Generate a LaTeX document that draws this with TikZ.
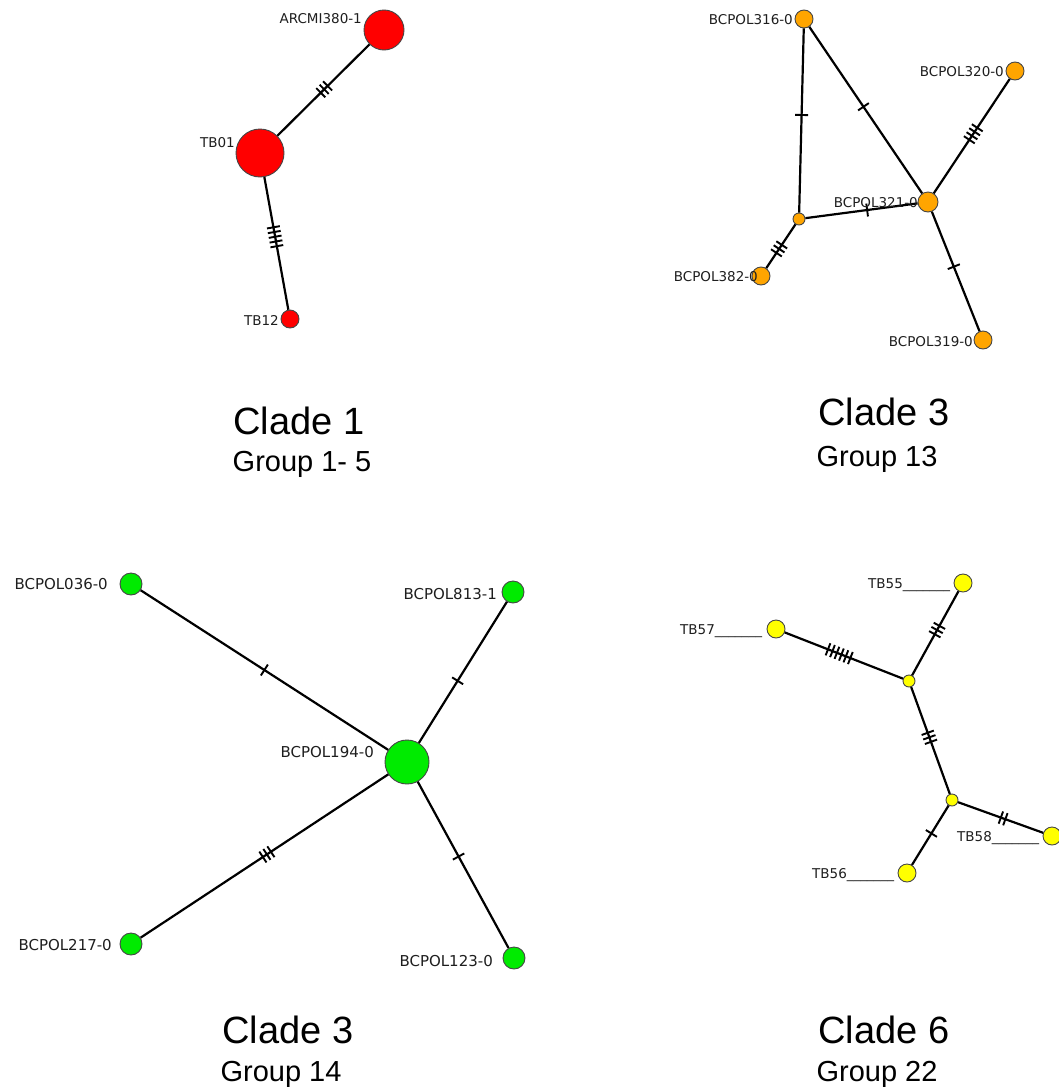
\documentclass[tikz,border=0pt]{standalone}
\usepackage{fontspec}
\newfontfamily\lblfont{DejaVu Sans}
\newfontfamily\ttlfont{Liberation Sans}
\usetikzlibrary{decorations.markings}
\definecolor{hred}{RGB}{255,0,0}
\definecolor{horange}{RGB}{255,165,0}
\definecolor{hgreen}{RGB}{0,235,0}
\definecolor{hyellow}{RGB}{255,255,0}
\definecolor{hborder}{RGB}{70,70,70}
\definecolor{htext}{RGB}{30,30,30}
\tikzset{
  hap/.style={circle, draw=hborder, line width=0.9pt, inner sep=0pt, minimum size=#1},
  edge/.style={line width=2.2pt, black},
  ticks/.style 2 args={postaction={decorate, decoration={markings,
     mark=at position #2 with {\foreach \k in {1,...,#1}{\draw[line width=1.9pt, black] ({(\k-(#1+1)/2)*4.8},-6.5) -- ({(\k-(#1+1)/2)*4.8},6.5);}}}}},
  lbl/.style={font=\lblfont\fontsize{13.5}{16}\selectfont, text=htext, inner sep=0pt, anchor=base east},
  glbl/.style={font=\lblfont\fontsize{15}{18}\selectfont, text=htext, inner sep=0pt, anchor=base east},
  ylbl/.style={font=\lblfont\fontsize{13.5}{16}\selectfont, text=htext, inner sep=0pt, anchor=base west},
  clade/.style={font=\ttlfont\fontsize{38}{44}\selectfont, text=black, inner sep=0pt, anchor=base},
  grp/.style={font=\ttlfont\fontsize{29}{33}\selectfont, text=black, inner sep=0pt, anchor=base},
}
\begin{document}
\begin{tikzpicture}[x=1pt,y=-1pt]
\useasboundingbox[fill=white] (0,0) rectangle (1059,1087);

% ---------------- Clade 1 ----------------
\node[hap=40pt, fill=hred] (arcmi) at (384,30) {};
\node[hap=48pt, fill=hred] (tb01) at (260,153) {};
\node[hap=18pt, fill=hred] (tb12) at (290,319) {};
\draw[edge, ticks={3}{0.51}] (tb01) -- (arcmi);
\draw[edge, ticks={5}{0.45}] (tb01) -- (tb12);
\node[lbl] (l-arcmi) at (362,23) {ARCMI380-1};
\node[lbl] (l-tb01) at (235,147) {TB01};
\node[lbl] (l-tb12) at (279,325) {TB12};
\node[clade] (c1) at (299,434) {Clade 1};
\node[grp] (g1) at (302,471) {Group 1- 5};

% ---------------- Clade 3 (Group 13) ----------------
\node[hap=18pt, fill=horange] (p316) at (804,19) {};
\node[hap=18pt, fill=horange] (p320) at (1015,71) {};
\node[hap=20pt, fill=horange] (p321) at (928,202) {};
\node[hap=12pt, fill=horange] (pm) at (799,219) {};
\node[hap=18pt, fill=horange] (p382) at (761,276) {};
\node[hap=18pt, fill=horange] (p319) at (983,340) {};
\draw[edge, ticks={1}{0.47}] (p316) -- (pm);
\draw[edge, ticks={1}{0.48}] (p316) -- (p321);
\draw[edge, ticks={4}{0.52}] (p321) -- (p320);
\draw[edge, ticks={1}{0.55}] (pm) -- (p321);
\draw[edge, ticks={3}{0.56}] (pm) -- (p382);
\draw[edge, ticks={1}{0.46}] (p321) -- (p319);
\node[lbl] (l-p316) at (793,24) {BCPOL316-0};
\node[lbl] (l-p320) at (1004,76) {BCPOL320-0};
\node[lbl] (l-p321) at (918,207) {BCPOL321-0};
\node[lbl] (l-p382) at (758,281) {BCPOL382-0};
\node[lbl] (l-p319) at (973,346) {BCPOL319-0};
\node[clade] (c3a) at (884,425) {Clade 3};
\node[grp] (g13) at (877,466) {Group 13};

% ---------------- Clade 3 (Group 14) ----------------
\node[hap=22pt, fill=hgreen] (g036) at (131,584) {};
\node[hap=22pt, fill=hgreen] (g813) at (513,592) {};
\node[hap=44pt, fill=hgreen] (g194) at (407,762) {};
\node[hap=22pt, fill=hgreen] (g217) at (131,944) {};
\node[hap=22pt, fill=hgreen] (g123) at (514,958) {};
\draw[edge, ticks={1}{0.50}] (g194) -- (g036);
\draw[edge, ticks={1}{0.44}] (g194) -- (g813);
\draw[edge, ticks={3}{0.49}] (g194) -- (g217);
\draw[edge, ticks={1}{0.45}] (g194) -- (g123);
\node[glbl] (l-g036) at (108,589) {BCPOL036-0};
\node[glbl] (l-g813) at (497,599) {BCPOL813-1};
\node[glbl] (l-g194) at (374,757) {BCPOL194-0};
\node[glbl] (l-g217) at (112,950) {BCPOL217-0};
\node[glbl] (l-g123) at (493,966) {BCPOL123-0};
\node[clade] (c3b) at (288,1043) {Clade 3};
\node[grp] (g14) at (281,1081) {Group 14};

% ---------------- Clade 6 ----------------
\node[hap=18pt, fill=hyellow] (y55) at (963,583) {};
\node[hap=18pt, fill=hyellow] (y57) at (776,629) {};
\node[hap=12pt, fill=hyellow] (ym1) at (909,681) {};
\node[hap=12pt, fill=hyellow] (ym2) at (952,800) {};
\node[hap=18pt, fill=hyellow] (y58) at (1052,836) {};
\node[hap=18pt, fill=hyellow] (y56) at (907,873) {};
\draw[edge, ticks={6}{0.54}] (ym1) -- (y57);
\draw[edge, ticks={3}{0.54}] (ym1) -- (y55);
\draw[edge, ticks={3}{0.47}] (ym1) -- (ym2);
\draw[edge, ticks={2}{0.53}] (ym2) -- (y58);
\draw[edge, ticks={1}{0.47}] (ym2) -- (y56);
\node[ylbl] (l-y55) at (868,588) {TB55\_\_\_\_\_\_\_};
\node[ylbl] (l-y57) at (680,634) {TB57\_\_\_\_\_\_\_};
\node[ylbl] (l-y58) at (957,841) {TB58\_\_\_\_\_\_\_};
\node[ylbl] (l-y56) at (812,878) {TB56\_\_\_\_\_\_\_};
\node[clade] (c6) at (884,1043) {Clade 6};
\node[grp] (g22) at (877,1081) {Group 22};
\end{tikzpicture}
\end{document}
